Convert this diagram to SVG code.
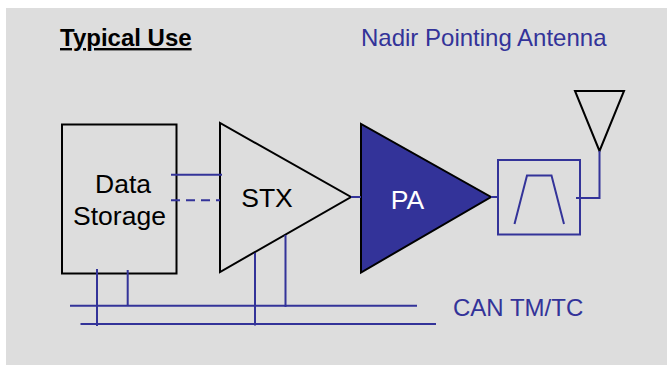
<svg xmlns="http://www.w3.org/2000/svg" width="667" height="365" viewBox="0 0 667 365">
<style>
text{font-family:"Liberation Sans",Arial,sans-serif;font-size:24px}
.big{font-size:26.500px}
.k{fill:none;stroke:#000;stroke-width:2}
.b{fill:none;stroke:#333399;stroke-width:2}
.bt{fill:#333399}
</style>
<rect x="6" y="8" width="661" height="357" fill="#dddddd"/>
<g id="title"><text x="60" y="46" font-weight="bold" text-decoration="underline">Typical Use</text></g>
<g id="antenna-label"><text class="bt" x="361" y="46">Nadir Pointing Antenna</text></g>
<g id="data-storage"><rect class="k" x="62" y="124.500" width="114.500" height="149"/>
<text class="big" x="123" y="193" text-anchor="middle">Data</text><text class="big" x="119.500" y="225" text-anchor="middle">Storage</text></g>
<g id="stx"><path class="k" d="M220 123V272L351 197Z"/><text class="big" x="267" y="207" text-anchor="middle">STX</text></g>
<g id="pa"><path d="M361 124V272.500L491 197Z" fill="#333399" stroke="#000" stroke-width="2"/><text class="big" x="407.500" y="209" text-anchor="middle" fill="#fff">PA</text></g>
<g id="filter"><rect class="b" x="498" y="160" width="82" height="74.500"/><path class="b" d="M514.500 224L527 175.500H551.500L564 224"/></g>
<g id="antenna"><path class="k" d="M575 91H624L599.500 151Z"/></g>
<g id="can-label"><text class="bt" x="453" y="316">CAN TM/TC</text></g>
<g id="connectors" class="b">
<path class="b" d="M171 174.700H222"/>
<path class="b" d="M171 200.300H220" stroke-dasharray="9 6"/>
<path class="b" d="M351 197H361M491 197H498M576 198H599.500V151"/>
<path class="b" d="M70 305.700H417M80.500 324H436"/>
<path class="b" d="M97 269V326M127.700 270V306M255 253V325.500M285.500 235V307"/>
</g>
</svg>
